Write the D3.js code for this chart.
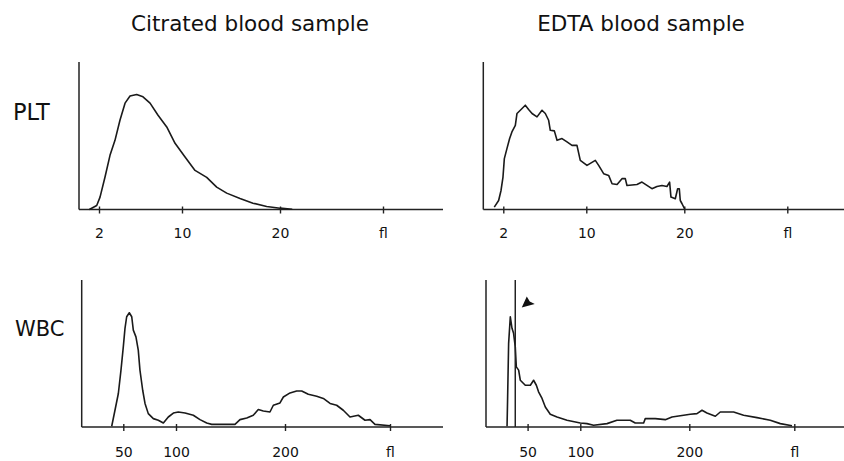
<!DOCTYPE html>
<html>
<head>
<meta charset="utf-8">
<script src="https://cdnjs.cloudflare.com/ajax/libs/d3/7.8.5/d3.min.js"></script>
<style>
  body { margin: 0; background: #fff; }
  svg { display: block; font-family: "DejaVu Sans", Verdana, sans-serif; }
</style>
</head>
<body>
<svg id="chart" width="844" height="461"></svg>
<script>
// column titles and row labels
var columnTitles = ["Citrated blood sample", "EDTA blood sample"];
var rowLabels = ["PLT", "WBC"];

// x axis ticks (the last one is the unit label)
var pltTicks = [2, 10, 20, 30];
var pltTickLabels = ["2", "10", "20", "fl"];
var wbcTicks = [50, 100, 200, 300];
var wbcTickLabels = ["50", "100", "200", "fl"];

// histograms: volume in fl, relative count (0-100)
var pltCitrateFl = [1.07, 1.78, 2.1, 2.58, 3.06, 3.54, 4.02, 4.51, 4.99, 5.63, 6.24, 6.92, 7.69, 8.53, 9.33, 10.31, 11.33, 12.52, 13.54, 14.56, 15.92, 17.24, 18.64, 20, 21.19];
var pltCitrateCount = [0, 2.7, 8.4, 22, 36.7, 46.9, 60.5, 72.1, 76.9, 78, 76.4, 72.1, 63.9, 56, 44.9, 35.6, 26.5, 21.8, 15.2, 11.1, 7.5, 4.3, 2, 0.9, 0.2];

var pltEdtaFl = [1.13, 1.55, 1.78, 1.97, 2.1, 2.35, 2.61, 2.83, 3.16, 3.32, 3.64, 4.12, 4.44, 4.77, 5.25, 5.73, 6.05, 6.37, 6.53, 6.92, 7.18, 7.66, 8.14, 8.62, 9.1, 9.42, 10.07, 10.92, 11.26, 11.77, 12.28, 12.63, 13.14, 13.64, 13.98, 14.15, 15.17, 15.68, 16.19, 16.7, 17.21, 17.72, 18.23, 18.5, 18.64, 19.08, 19.32, 19.49, 19.59, 19.77, 20.03];
var pltEdtaCount = [1.6, 6.1, 12.9, 22, 34.5, 41.3, 48.1, 52.6, 57.1, 65.1, 67.3, 70.7, 67.8, 65.1, 62.8, 67.3, 65.1, 60.5, 53.7, 53.3, 46.9, 48.1, 45.8, 43.5, 43.5, 33.3, 29.9, 33.3, 29.9, 24.3, 23.1, 17.5, 17, 20.9, 20.9, 16.3, 17, 18.6, 16.3, 14.1, 15.6, 16.3, 15.6, 18.6, 8.4, 7.3, 14.1, 14.1, 6.1, 3.9, 0.5];

var wbcCitrateFl = [39, 42.1, 45.3, 47.8, 50, 51.6, 53.2, 55.7, 58, 59.5, 62, 64.2, 65.8, 68.4, 70.6, 73.7, 78.5, 83.2, 88, 92.7, 97.5, 102.1, 108.3, 115.9, 122, 128.2, 132.8, 143.4, 154.1, 158.7, 164.9, 170.9, 175.5, 180.1, 186.2, 189.3, 195.4, 198.5, 204.8, 211.1, 215.9, 222.2, 230.2, 236.5, 242.9, 249.2, 255.5, 261.9, 269.8, 276.2, 281, 285.7, 300];
var wbcCitrateCount = [0.5, 11.4, 22.8, 38.7, 54.5, 67.1, 75, 77.7, 75, 65.9, 61.3, 52.3, 38.7, 25, 16, 9.1, 5.7, 4.6, 2.7, 6.8, 9.5, 10.2, 9.5, 8, 5, 2.7, 1.8, 1.8, 1.8, 5, 6.1, 8, 11.9, 10.9, 10.2, 14.8, 16.4, 20.4, 23.2, 24.5, 24.5, 22.3, 20.9, 19.4, 16, 14.8, 11.4, 6.8, 8, 4.6, 5, 1.8, 0.9];

var wbcEdtaFl = [30.5, 31, 32, 33.6, 35.2, 36.7, 38.3, 39.3, 41.5, 43.1, 47.8, 52.6, 55.7, 58.3, 60.4, 63.7, 66.8, 71.5, 77.9, 87.4, 100, 106.1, 112.2, 124.5, 133.6, 145.8, 150.4, 158.1, 159.6, 168.8, 178, 184.1, 194.8, 200.9, 207.3, 212.1, 216.8, 224.8, 229.5, 242.2, 251.7, 264.5, 277.1, 286.7, 297.8];
var wbcEdtaCount = [0.5, 18.2, 56.9, 75, 67.1, 63.7, 54.5, 40.9, 38.7, 31.8, 28.4, 28.4, 31.8, 28.4, 23.9, 19.4, 13.6, 8.7, 6.8, 4.6, 2.7, 2.3, 1.2, 2.3, 4.6, 4.6, 2.7, 2.7, 5.7, 5.7, 5, 6.8, 8, 8.7, 9.1, 11.4, 9.5, 7.3, 10.2, 10.2, 8, 6.4, 4.6, 2.3, 0.9];

// EDTA WBC: discriminator line position (fl)
var wbcEdtaMarker = 38.3;

var svg = d3.select("#chart");

// panel layout
var panels = [
  { col: 0, row: 0, ax: 79, top: 62, base: 209.5, right: 443, fl: pltCitrateFl, n: pltCitrateCount },
  { col: 1, row: 0, ax: 483.3, top: 62, base: 209.5, right: 844, fl: pltEdtaFl, n: pltEdtaCount },
  { col: 0, row: 1, ax: 81.7, top: 280, base: 427, right: 443, fl: wbcCitrateFl, n: wbcCitrateCount },
  { col: 1, row: 1, ax: 486, top: 280, base: 427, right: 844, fl: wbcEdtaFl, n: wbcEdtaCount }
];

// titles
svg.selectAll(".title")
  .data(columnTitles)
  .enter().append("text")
  .attr("x", function(d, i) { return [250, 641][i]; })
  .attr("y", 31)
  .attr("text-anchor", "middle")
  .attr("fill", "#111")
  .style("font-size", "21.5px")
  .text(function(d) { return d; });

svg.selectAll(".rowlabel")
  .data(rowLabels)
  .enter().append("text")
  .attr("x", function(d, i) { return [13, 15][i]; })
  .attr("y", function(d, i) { return [120, 336][i]; })
  .attr("fill", "#111")
  .style("font-size", function(d, i) { return ["22.5px", "21px"][i]; })
  .text(function(d) { return d; });

panels.forEach(function(p) {
  var g = svg.append("g");
  var x;
  if (p.row == 0) {
    x = d3.scaleLinear().domain(pltTicks).range([p.ax + 20, p.ax + 103, p.ax + 201, p.ax + 304]);
  } else {
    x = d3.scaleLinear().domain(wbcTicks).range([p.ax + 41.6, p.ax + 94.3, p.ax + 203.3, p.ax + 308.3]);
  }
  var y = d3.scaleLinear().domain([0, 100]).range([p.base, p.top]);
  var labels = p.row == 0 ? pltTickLabels : wbcTickLabels;
  var ticks = p.row == 0 ? pltTicks : wbcTicks;

  var axis = d3.axisBottom(x)
    .tickValues(ticks)
    .tickSize(4)
    .tickPadding(15)
    .tickFormat(function(d, i) { return labels[i]; });

  var ag = g.append("g")
    .attr("transform", "translate(0," + p.base + ")")
    .call(axis);
  ag.select(".domain").remove();
  ag.selectAll(".tick line").attr("y1", -3).attr("stroke", "#222").attr("stroke-width", 1.4);
  ag.selectAll(".tick text")
    .attr("fill", "#111")
    .style("font-family", "DejaVu Sans, Verdana, sans-serif")
    .style("font-size", "14px");
  if (p.row == 1) ag.selectAll(".tick text").attr("y", 30).attr("dy", 0);

  // axis lines
  g.append("line")
    .attr("x1", p.ax).attr("x2", p.ax)
    .attr("y1", p.top).attr("y2", p.base)
    .attr("stroke", "#222").attr("stroke-width", 1.5);
  g.append("line")
    .attr("x1", p.ax).attr("x2", p.right)
    .attr("y1", p.base).attr("y2", p.base)
    .attr("stroke", "#222").attr("stroke-width", 1.5);

  var pts = p.fl.map(function(v, i) { return [v, p.n[i]]; });
  var line = d3.line()
    .x(function(d) { return x(d[0]); })
    .y(function(d) { return y(d[1]); });

  g.append("path")
    .datum(pts)
    .attr("d", line)
    .attr("fill", "none")
    .attr("stroke", "#1a1a1a")
    .attr("stroke-width", 1.6)
    .attr("stroke-linejoin", "round");

  if (p.row == 1 && p.col == 1) {
    var mx = x(wbcEdtaMarker);
    g.append("line")
      .attr("x1", mx).attr("x2", mx)
      .attr("y1", p.top).attr("y2", p.base)
      .attr("stroke", "#222").attr("stroke-width", 1.5);
    // arrowhead pointing down-left at the marker line
    var tx = mx + 6.5, ty = p.top + 27.5;
    g.append("path")
      .attr("d", "M" + tx + "," + ty + " L" + (tx + 5) + "," + (ty - 11) +
        " L" + (tx + 8) + "," + (ty - 6) + " L" + (tx + 13) + "," + (ty - 3.5) + " Z")
      .attr("fill", "#111");
  }
});
</script>
</body>
</html>
